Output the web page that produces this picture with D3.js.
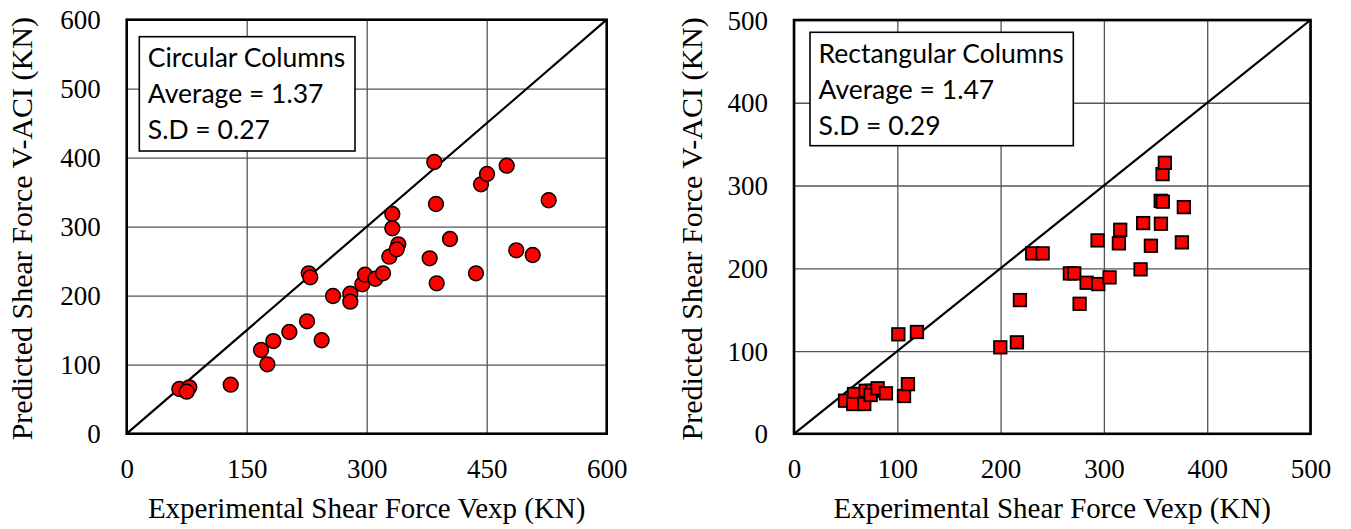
<!DOCTYPE html>
<html>
<head>
<meta charset="utf-8">
<script src="https://cdn.jsdelivr.net/npm/d3@7"></script>
<style>
  html, body { margin: 0; padding: 0; background: #fff; }
  svg { display: block; }
</style>
</head>
<body>
<svg id="chart" width="1351" height="529"></svg>
<script>
// Circular columns: [experimental Vexp, predicted V-ACI] in kN
const circularPoints = [
  [65.8, 64.8], [78.3, 67.2], [75, 60.9], [130, 71], [167.9, 121.3], [175.8, 100.6],
  [183.3, 134.3], [203.3, 147.4], [225.4, 162.9], [243.7, 135.4], [227.5, 232.5],
  [229.5, 226.7], [257.9, 199.6], [279.5, 202.9], [279.5, 191.3], [294.5, 216.5],
  [297.9, 230.4], [310.8, 224.6], [320.4, 232.5], [328.3, 256.5], [332, 318.4],
  [332, 297.7], [339.5, 274.5], [337.5, 267.2], [378.7, 254.2], [384.5, 393.8],
  [386.6, 332.9], [387.5, 218], [404.1, 282.2], [436.6, 232.5], [442.9, 361.4],
  [450.4, 376.4], [475, 388.4], [487, 265.8], [507.5, 259], [527.5, 338.3]
];

// Rectangular columns: [experimental Vexp, predicted V-ACI] in kN
const rectangularPoints = [
  [49.4, 40], [58.1, 48.1], [57.4, 36], [68, 36], [69.4, 52], [76, 52], [74.2, 46.9],
  [81, 55], [89, 48.9], [101, 120.2], [106.5, 45.7], [110.3, 60], [119, 123],
  [199.7, 104.5], [215.8, 110.5], [218.7, 161.6], [230.6, 218], [240.7, 218],
  [267.1, 193.8], [271.3, 193.8], [276.5, 157.1], [283.3, 182.5], [294.5, 180.9],
  [293.9, 233.7], [305.5, 189], [314.5, 230.1], [315.8, 246.5], [335.5, 198.7],
  [338, 254.6], [345.5, 227.2], [355.2, 253.8], [355, 281.5], [357, 280.5],
  [356.8, 313.8], [359, 327.4], [375.5, 231.3], [377.4, 273.9]
];

const circularTicks = [0, 150, 300, 450, 600];
const circularYTicks = [0, 100, 200, 300, 400, 500, 600];
const rectangularTicks = [0, 100, 200, 300, 400, 500];

const circularLegend = ["Circular Columns", "Average = 1.37", "S.D = 0.27"];
const rectangularLegend = ["Rectangular Columns", "Average = 1.47", "S.D = 0.29"];

const xTitle = "Experimental Shear Force Vexp (KN)";
const yTitle = "Predicted Shear Force V-ACI (KN)";

const svg = d3.select("#chart");
const serif = "'Liberation Serif', 'Times New Roman', serif";
const sans = "Lato, 'Open Sans', sans-serif";

function drawPanel(opts) {
  const { left, right, top, bottom, xMax, yMax, xTicks, yTicks, points, marker,
          legend, legendBox, yTitleX } = opts;
  const x = d3.scaleLinear().domain([0, xMax]).range([left, right]);
  const y = d3.scaleLinear().domain([0, yMax]).range([bottom, top]);
  const g = svg.append("g");

  // grid lines
  g.append("g")
    .attr("transform", `translate(0,${bottom})`)
    .call(d3.axisBottom(x).tickValues(xTicks).tickSize(-(bottom - top)).tickFormat(""))
    .call(a => a.select(".domain").remove())
    .call(a => a.selectAll("line").attr("stroke", "#555").attr("stroke-width", 1.3));
  g.append("g")
    .attr("transform", `translate(${left},0)`)
    .call(d3.axisLeft(y).tickValues(yTicks).tickSize(-(right - left)).tickFormat(""))
    .call(a => a.select(".domain").remove())
    .call(a => a.selectAll("line").attr("stroke", "#555").attr("stroke-width", 1.3));

  // tick labels
  g.append("g")
    .attr("transform", `translate(0,${bottom + 44})`)
    .call(d3.axisBottom(x).tickValues(xTicks).tickSize(0).tickPadding(0))
    .call(a => a.select(".domain").remove())
    .call(a => a.selectAll("text")
      .attr("font-family", serif).attr("font-size", 27).attr("fill", "#000")
      .attr("dy", 0).attr("y", 0));
  g.append("g")
    .attr("transform", `translate(${left - 26},0)`)
    .call(d3.axisLeft(y).tickValues(yTicks).tickSize(0).tickPadding(0))
    .call(a => a.select(".domain").remove())
    .call(a => a.selectAll("text")
      .attr("font-family", serif).attr("font-size", 27).attr("fill", "#000")
      .attr("dy", "0.34em").attr("x", 0));

  // 1:1 reference line
  g.append("line")
    .attr("x1", x(0)).attr("y1", y(0))
    .attr("x2", x(Math.min(xMax, yMax))).attr("y2", y(Math.min(xMax, yMax)))
    .attr("stroke", "#000").attr("stroke-width", 2.2);

  // plot border
  g.append("rect")
    .attr("x", left).attr("y", top)
    .attr("width", right - left).attr("height", bottom - top)
    .attr("fill", "none").attr("stroke", "#000").attr("stroke-width", 2.6);

  // data markers
  const pts = g.append("g");
  if (marker === "circle") {
    pts.selectAll("circle").data(points).join("circle")
      .attr("cx", d => x(d[0])).attr("cy", d => y(d[1])).attr("r", 7.4)
      .attr("fill", "#ff0000").attr("stroke", "#000").attr("stroke-width", 1.5);
  } else {
    const s = 12.5;
    pts.selectAll("rect").data(points).join("rect")
      .attr("x", d => x(d[0]) - s / 2).attr("y", d => y(d[1]) - s / 2)
      .attr("width", s).attr("height", s)
      .attr("fill", "#ff0000").attr("stroke", "#000").attr("stroke-width", 1.8);
  }

  // statistics box
  const lg = g.append("g");
  lg.append("rect")
    .attr("x", legendBox.x).attr("y", legendBox.y)
    .attr("width", legendBox.w).attr("height", legendBox.h)
    .attr("fill", "#fff").attr("stroke", "#000").attr("stroke-width", 1.6);
  lg.selectAll("text").data(legend).join("text")
    .attr("x", legendBox.x + 8.5)
    .attr("y", (d, i) => legendBox.y + 30.5 + i * 36)
    .attr("font-family", sans).attr("font-size", 26.5).attr("fill", "#000")
    .text(d => d);

  // axis titles
  g.append("text")
    .attr("x", (left + right) / 2).attr("y", 518)
    .attr("text-anchor", "middle")
    .attr("font-family", serif).attr("font-size", 29).attr("fill", "#000")
    .text(xTitle);
  g.append("text")
    .attr("transform", `translate(${yTitleX},${(top + bottom) / 2 + 2}) rotate(-90)`)
    .attr("text-anchor", "middle")
    .attr("font-family", serif).attr("font-size", 30).attr("fill", "#000")
    .text(yTitle);
}

drawPanel({
  left: 126.7, right: 606.7, top: 19.7, bottom: 433.7,
  xMax: 600, yMax: 600, xTicks: circularTicks, yTicks: circularYTicks,
  points: circularPoints, marker: "circle",
  legend: circularLegend, legendBox: { x: 139.3, y: 36.7, w: 215.7, h: 114.3 },
  yTitleX: 32
});

drawPanel({
  left: 794, right: 1310.5, top: 20, bottom: 433.8,
  xMax: 500, yMax: 500, xTicks: rectangularTicks, yTicks: rectangularTicks,
  points: rectangularPoints, marker: "square",
  legend: rectangularLegend, legendBox: { x: 810, y: 32.3, w: 263.3, h: 113.4 },
  yTitleX: 701.5
});
</script>
</body>
</html>
